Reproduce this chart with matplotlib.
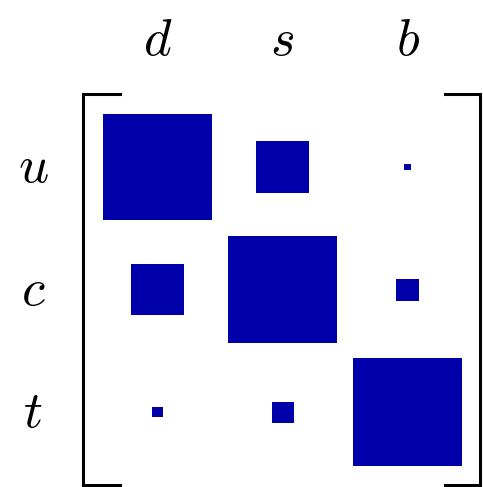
import numpy as np
import matplotlib
matplotlib.use("Agg")
import matplotlib.pyplot as plt
from matplotlib.patches import Rectangle

plt.rcParams['mathtext.fontset'] = 'cm'

# magnitudes of CKM matrix elements |V_ij|
rows = ['u', 'c', 't']
cols = ['d', 's', 'b']
V_u = [0.974, 0.225, 0.0037]
V_c = [0.225, 0.973, 0.041]
V_t = [0.0086, 0.040, 0.999]
V = np.array([V_u, V_c, V_t])

blue = '#0000aa'
scale = 0.88  # side of square for |V| = 1 (in cell units)

fig = plt.figure(figsize=(4.83, 4.87), dpi=100)
ax = fig.add_axes([0, 0, 1, 1])
ax.set_xlim(-1.26, 2.604)
ax.set_ylim(2.608, -1.361)
ax.axis('off')

# area of each square is proportional to |V|
for i in range(len(rows)):
    for j in range(len(cols)):
        side = scale * np.sqrt(V[i, j])
        ax.add_patch(Rectangle((j - side / 2, i - side / 2), side, side,
                               facecolor=blue, edgecolor='none'))

for j, c in enumerate(cols):
    ax.text(j, -1.035, '$' + c + '$', fontsize=38, ha='center', va='center')
for i, r in enumerate(rows):
    ax.text(-0.996, i, '$' + r + '$', fontsize=38, ha='center', va='center')

# matrix brackets
top, bot = -0.595, 2.59
ax.plot([-0.30, -0.596, -0.596, -0.30], [top, top, bot, bot],
        color='black', lw=2.2, solid_joinstyle='miter')
ax.plot([2.30, 2.58, 2.58, 2.30], [top, top, bot, bot],
        color='black', lw=2.2, solid_joinstyle='miter')

fig.savefig('out.png', dpi=100)
